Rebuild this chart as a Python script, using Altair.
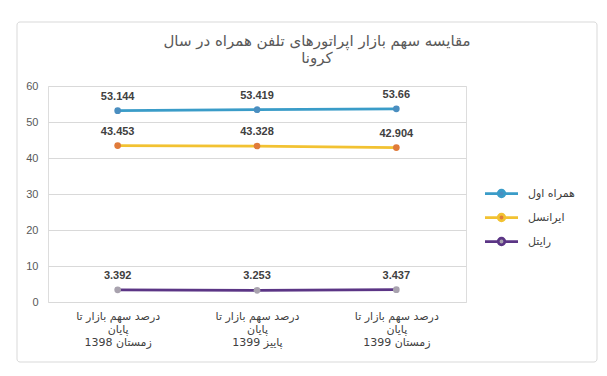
import altair as alt
import pandas as pd

categories = ["درصد سهم بازار تا|پایان|زمستان 1398",
              "درصد سهم بازار تا|پایان|پاییز 1399",
              "درصد سهم بازار تا|پایان|زمستان 1399"]
series_names = ["همراه اول", "ایرانسل", "رایتل"]
hamrah_aval = [53.144, 53.419, 53.66]
irancell = [43.453, 43.328, 42.904]
rightel = [3.392, 3.253, 3.437]
y_ticks = [0, 10, 20, 30, 40, 50, 60]

line_colors = ["#3A9CC8", "#F2C232", "#5B3585"]
marker_colors = ["#4A8EC0", "#E07B3A", "#A8A2AE"]

rows = []
for name, vals in zip(series_names, [hamrah_aval, irancell, rightel]):
    for c, v in zip(categories, vals):
        rows.append({"cat": c, "series": name, "value": v})
df = pd.DataFrame(rows)

sym = "M-1.65,0H-0.33M0.33,0H1.65M-0.33,0A0.33,0.33 0 1,1 0.33,0A0.33,0.33 0 1,1 -0.33,0Z"

legend = alt.Legend(title=None, orient="none", legendX=442, legendY=96,
                    symbolType=sym, symbolSize=400, symbolStrokeWidth=2.75,
                    labelFontSize=11, labelColor="#404040", labelFont="DejaVu Sans",
                    rowPadding=3, labelOffset=15)

x_enc = alt.X("cat:N", sort=categories, title=None,
              scale=alt.Scale(type="point", padding=0.5),
              axis=alt.Axis(labelExpr="split(datum.label, '|')", labelAngle=0,
                            labelFont="DejaVu Sans", labelFontSize=11, labelColor="#404040",
                            labelLineHeight=13, labelPadding=8, ticks=False, domain=False,
                            grid=False, labelBaseline="top"))
y_enc = alt.Y("value:Q", title=None,
              scale=alt.Scale(domain=[0, 60], nice=False, zero=True),
              axis=alt.Axis(values=y_ticks, ticks=False, domain=False, labelPadding=10,
                            labelFontSize=11, labelColor="#595959", labelFont="Liberation Sans",
                            gridColor="#D9D9D9", gridWidth=1))

base = alt.Chart(df)

lines = base.mark_line(strokeWidth=2.75).encode(
    x=x_enc, y=y_enc,
    stroke=alt.Stroke("series:N", sort=series_names,
                      scale=alt.Scale(domain=series_names, range=line_colors),
                      legend=legend),
)
points = base.mark_point(filled=True, size=45, opacity=1, strokeWidth=0).encode(
    x=x_enc, y=y_enc,
    fill=alt.Fill("series:N", sort=series_names,
                  scale=alt.Scale(domain=series_names, range=marker_colors),
                  legend=legend),
)
labels = base.mark_text(dy=-9, baseline="bottom", fontSize=11, fontWeight="bold",
                        color="#404040", font="Liberation Sans").encode(
    x=x_enc, y=y_enc,
    text=alt.Text("value:Q", format="~g"),
)

frame = alt.Chart(pd.DataFrame({"a": [0]})).mark_rect(
    filled=False, stroke="#D9D9D9", strokeWidth=1, cornerRadius=3).encode(
    x=alt.value(-31), x2=alt.value(549), y=alt.value(-64), y2=alt.value(276))

chart = alt.layer(frame, lines, points, labels).properties(
    width=418, height=216,
    title=alt.TitleParams(["مقایسه سهم بازار اپراتورهای تلفن همراه در سال", "کرونا"],
                          anchor="middle", frame="group", dx=60, offset=-44,
                          fontSize=15, fontWeight="normal", color="#595959",
                          font="DejaVu Sans", lineHeight=17),
    autosize=alt.AutoSizeParams(type="none"),
    padding={"left": 48, "top": 86, "right": 141, "bottom": 74},
).configure_view(stroke=None).configure(background="white")

chart.save("out.html", embed_options={"renderer": "svg", "actions": False})
